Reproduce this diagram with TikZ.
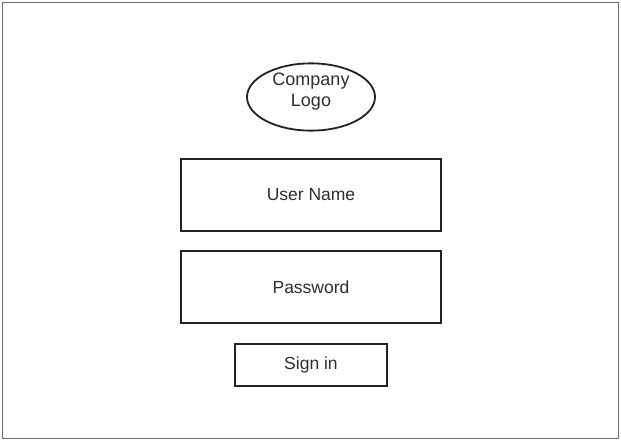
\documentclass[tikz,border=0pt]{standalone}
\usepackage{fontspec}
\setmainfont{Liberation Sans}
\usetikzlibrary{shapes.geometric,positioning}
\definecolor{frame}{RGB}{110,110,110}
\definecolor{ink}{RGB}{34,34,34}
\definecolor{label}{RGB}{45,45,45}

\begin{document}
\begin{tikzpicture}[x=1pt, y=-1pt,
    field/.style={rectangle, draw=ink, line width=1.8pt, minimum width=260pt, minimum height=72pt, text=label, font=\fontsize{17.5pt}{20pt}\selectfont},
    logo/.style={ellipse, draw=ink, line width=1.8pt, minimum width=128pt, minimum height=66pt, inner sep=0pt, align=center, text depth=14pt, text=label, font=\fontsize{18pt}{21pt}\selectfont},
    signbtn/.style={field, minimum width=152pt, minimum height=42pt}
]
    \useasboundingbox (0,0) rectangle (621,441);
    \draw[frame, line width=1.8pt] (2.5,2.5) rectangle (618.5,438.5);

    \node[logo] (logo) at (311,97) {Company\\Logo};
    \node[field] (user) at (311,195) {User Name};
    \node[field] (pass) at (311,287) {Password};
    \node[signbtn] (signin) at (311,365) {Sign in};
\end{tikzpicture}
\end{document}
